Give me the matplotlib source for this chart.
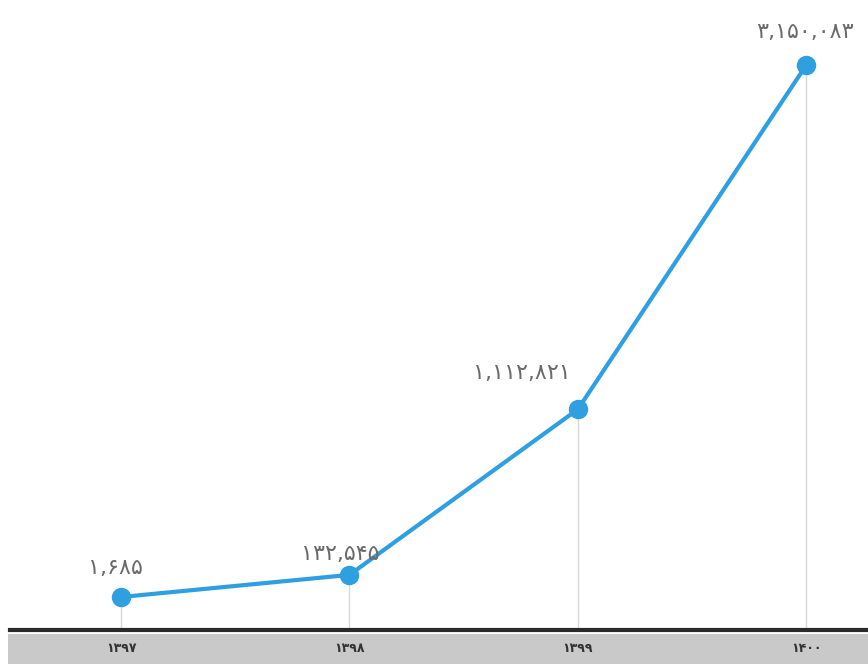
import matplotlib
matplotlib.use("Agg")
import matplotlib.pyplot as plt
from matplotlib.patches import Rectangle

# سال‌ها و مقادیر
years = ["۱۳۹۷", "۱۳۹۸", "۱۳۹۹", "۱۴۰۰"]
values = [1685, 132545, 1112821, 3150083]

fa_digits = str.maketrans("0123456789", "۰۱۲۳۴۵۶۷۸۹")
labels = ["{:,}".format(v).translate(fa_digits) for v in values]

# label offsets in pixels (dx, dy)
offsets = [(-6, 29), (-9, 21), (-56, 36), (-1, 33)]

plt.rcParams['font.family'] = ['DejaVu Sans']

fig = plt.figure(figsize=(8.68, 6.64), dpi=100)
W, H = 868, 664
ax = fig.add_axes([10/W, (H-630)/H, 1 - 10/W, 630/H])

# gray band under the axis
band = Rectangle((8/W, 0), 1, (H-634)/H, transform=fig.transFigure,
                 facecolor="#c9c9c9", edgecolor="none", zorder=-1)
fig.add_artist(band)

x = list(range(len(values)))
ymin, ymax = -193576, 3534688
ax.vlines(x, ymin, values, color="#d9d9d9", linewidth=1, zorder=1)
ax.plot(x, values, color="#2e9fe0", linewidth=3, marker="o", markersize=13, zorder=3)

for i, v in enumerate(values):
    ax.annotate(labels[i], (i, v), xytext=offsets[i], textcoords="offset pixels",
                ha="center", va="center", fontsize=16, color="#6a6a6a")

ax.set_xlim(-0.486, 3.27)
ax.set_ylim(ymin, ymax)
ax.set_xticks(x)
ax.set_xticklabels(years, fontsize=9, fontweight="bold", color="#333333")
ax.tick_params(axis="x", length=0, pad=9)
ax.set_yticks([])
for s in ["top", "left", "right"]:
    ax.spines[s].set_visible(False)
ax.spines["bottom"].set_linewidth(3)
ax.spines["bottom"].set_color("#2a2a2a")
ax.patch.set_alpha(0)

plt.savefig("out.png", dpi=100)
